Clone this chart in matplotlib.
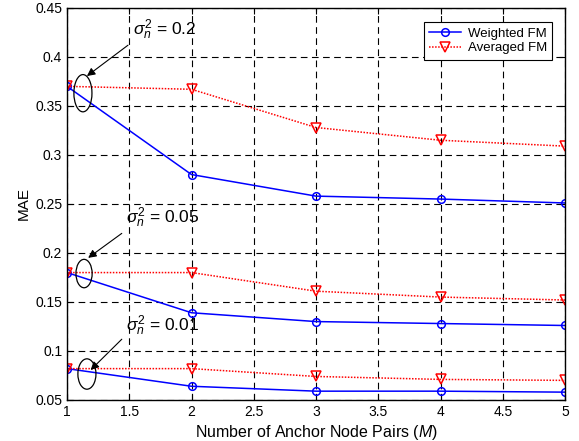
import matplotlib
matplotlib.use("Agg")
import matplotlib.pyplot as plt
from matplotlib.patches import Ellipse

plt.rcParams['font.family'] = ['Liberation Sans', 'DejaVu Sans']
plt.rcParams['mathtext.fontset'] = 'custom'
plt.rcParams['mathtext.rm'] = 'Liberation Sans'
plt.rcParams['mathtext.it'] = 'Liberation Sans:italic'

M = [1, 2, 3, 4, 5]
# sigma_n^2 = 0.2
w_02 = [0.370, 0.280, 0.258, 0.255, 0.251]
a_02 = [0.370, 0.367, 0.328, 0.315, 0.309]
# sigma_n^2 = 0.05
w_005 = [0.180, 0.139, 0.130, 0.128, 0.126]
a_005 = [0.180, 0.180, 0.161, 0.155, 0.152]
# sigma_n^2 = 0.01
w_001 = [0.082, 0.064, 0.059, 0.059, 0.058]
a_001 = [0.082, 0.082, 0.074, 0.071, 0.070]

labels = ["0.2", "0.05", "0.01"]

fig = plt.figure(figsize=(5.79, 4.41), dpi=100)
ax = fig.add_axes([0.1157, 0.093, 0.8603, 0.889])

for i, (w, a) in enumerate([(w_02, a_02), (w_005, a_005), (w_001, a_001)]):
    ax.plot(M, w, color='b', lw=1.1, marker='o', ms=5.5, mfc='none', mew=1.1,
            label='Weighted FM' if i == 0 else None)
    ax.plot(M, a, color='r', lw=1.1, ls=(0, (1, 1)), marker='v', ms=6.5, mfc='none', mew=1.1,
            label='Averaged FM' if i == 0 else None)

ax.set_xlim(1, 5)
ax.set_ylim(0.05, 0.45)
ax.set_xticks([1, 1.5, 2, 2.5, 3, 3.5, 4, 4.5, 5])
ax.set_xticklabels(['1', '1.5', '2', '2.5', '3', '3.5', '4', '4.5', '5'])
ax.set_yticks([0.05, 0.1, 0.15, 0.2, 0.25, 0.3, 0.35, 0.4, 0.45])
ax.set_yticklabels(['0.05', '0.1', '0.15', '0.2', '0.25', '0.3', '0.35', '0.4', '0.45'])
ax.tick_params(direction='in', top=True, right=True, labelsize=10, length=4)
ax.grid(True, color='k', ls=(0, (6, 4)), lw=0.8)
for s in ax.spines.values():
    s.set_linewidth(1.0)

ax.set_xlabel('Number of Anchor Node Pairs ($\\mathit{M}$)', fontsize=11.5, labelpad=3)
ax.set_ylabel('MAE', fontsize=11, labelpad=3)

# annotations: ellipse center, width, height, arrow tail, arrow head, text baseline
ann = [
    ((1.128, 0.363), 0.145, 0.038, (1.49, 0.412), (1.16, 0.3805), (1.53, 0.4224)),
    ((1.137, 0.179), 0.130, 0.029, (1.44, 0.220), (1.17, 0.195), (1.474, 0.2306)),
    ((1.160, 0.0765), 0.145, 0.031, (1.44, 0.112), (1.19, 0.0806), (1.474, 0.1204)),
]
for (c, wd, h, tail, head, tpos), lab in zip(ann, labels):
    ax.add_patch(Ellipse(c, wd, h, fill=False, ec='k', lw=0.9, zorder=5))
    ax.annotate('', xy=head, xytext=tail,
                arrowprops=dict(arrowstyle='-|>', color='k', lw=0.8,
                                mutation_scale=12, shrinkA=0, shrinkB=0))
    ax.text(tpos[0], tpos[1], '$\\sigma_{\\mathit{n}}^{2}$ = ' + lab, fontsize=12.5,
            ha='left', va='baseline')

leg = ax.legend(loc='upper right', fontsize=9.5, fancybox=False, edgecolor='k',
                framealpha=1, borderpad=0.4, handlelength=2.4, labelspacing=0.2,
                handletextpad=0.5, borderaxespad=0, bbox_to_anchor=(0.974, 0.964))
leg.get_frame().set_linewidth(0.8)

fig.savefig('out.png', dpi=100)
